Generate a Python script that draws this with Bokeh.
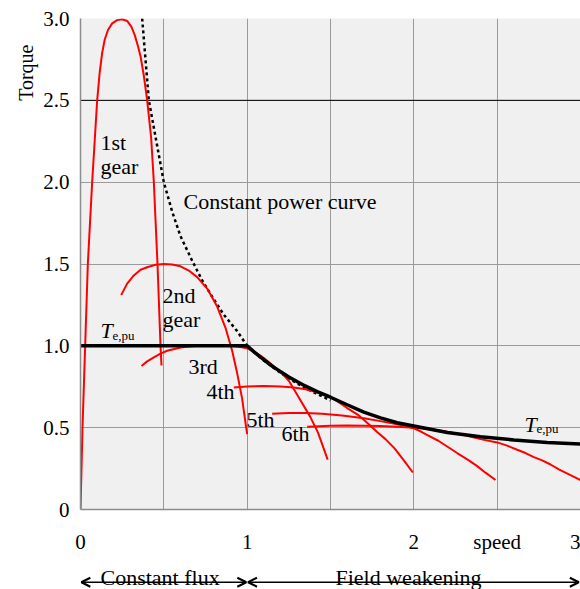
from bokeh.plotting import figure
from bokeh.models import FixedTicker, Label, Arrow, OpenHead, Span, Title
from bokeh.layouts import column
from bokeh.embed import file_html
from bokeh.resources import INLINE

# ---------------- data ----------------
x_ticks = [0, 0.5, 1, 1.5, 2, 2.5, 3]
x_tick_labels = ["0", "", "1", "", "2", "speed", "3"]
y_ticks = [0, 0.5, 1, 1.5, 2, 2.5, 3]
y_tick_labels = ["0", "0.5", "1.0", "1.5", "2.0", "2.5", "3.0"]

speed_1st = [0.0, 0.012, 0.028, 0.044, 0.07, 0.085, 0.10, 0.115, 0.13, 0.145, 0.165, 0.19, 0.22, 0.25, 0.28, 0.305, 0.325, 0.345, 0.36, 0.38, 0.40, 0.424, 0.44, 0.462, 0.48, 0.486]
torque_1st = [0.0, 0.5, 1.0, 1.5, 2.0, 2.25, 2.5, 2.67, 2.79, 2.87, 2.93, 2.97, 2.99, 2.995, 2.985, 2.95, 2.9, 2.83, 2.77, 2.65, 2.5, 2.27, 2.0, 1.5, 1.0, 0.88]

speed_2nd = [0.244, 0.28, 0.32, 0.36, 0.40, 0.45, 0.50, 0.55, 0.60, 0.65, 0.70, 0.76, 0.82, 0.87, 0.91, 0.94, 0.97, 0.994, 1.0]
torque_2nd = [1.31, 1.38, 1.43, 1.465, 1.48, 1.495, 1.50, 1.497, 1.486, 1.46, 1.42, 1.35, 1.24, 1.11, 0.97, 0.833, 0.676, 0.5, 0.46]

speed_3rd = [0.366, 0.40, 0.44, 0.48, 0.52, 0.60, 0.70, 0.80, 0.90, 0.95, 1.0, 1.05, 1.10, 1.16, 1.21, 1.251, 1.309, 1.377, 1.425, 1.483]
torque_3rd = [0.877, 0.905, 0.93, 0.952, 0.97, 0.99, 1.0, 1.005, 1.0, 0.995, 0.985, 0.96, 0.925, 0.875, 0.83, 0.785, 0.686, 0.569, 0.47, 0.305]

speed_4th = [0.92, 1.0, 1.1, 1.2, 1.28, 1.35, 1.42, 1.50, 1.542, 1.60, 1.663, 1.72, 1.783, 1.83, 1.883, 1.94, 1.994]
torque_4th = [0.745, 0.752, 0.755, 0.752, 0.745, 0.735, 0.716, 0.686, 0.66, 0.62, 0.58, 0.53, 0.47, 0.43, 0.375, 0.30, 0.226]

speed_5th = [1.15, 1.25, 1.35, 1.45, 1.57, 1.70, 1.80, 1.90, 1.95, 2.0, 2.04, 2.07, 2.147, 2.20, 2.26, 2.33, 2.38, 2.43, 2.49]
torque_5th = [0.585, 0.59, 0.59, 0.585, 0.575, 0.558, 0.54, 0.52, 0.51, 0.496, 0.478, 0.46, 0.42, 0.385, 0.345, 0.30, 0.265, 0.225, 0.18]

speed_6th = [1.36, 1.5, 1.6, 1.8, 1.9, 2.0, 2.1, 2.2, 2.3, 2.4, 2.5, 2.56, 2.62, 2.67, 2.72, 2.77, 2.82, 2.87, 2.94, 3.0]
torque_6th = [0.506, 0.512, 0.514, 0.51, 0.506, 0.50, 0.49, 0.475, 0.455, 0.43, 0.41, 0.39, 0.365, 0.345, 0.32, 0.30, 0.275, 0.245, 0.21, 0.18]

speed_te = [0.0, 1.0, 1.05, 1.1, 1.154, 1.25, 1.348, 1.42, 1.5, 1.6, 1.7, 1.8, 1.9, 2.0, 2.2, 2.4, 2.6, 2.8, 3.0]
torque_te = [1.0, 1.0, 0.955, 0.915, 0.873, 0.81, 0.755, 0.72, 0.686, 0.64, 0.595, 0.56, 0.53, 0.51, 0.47, 0.445, 0.425, 0.41, 0.40]

speed_cp = [0.37, 0.39, 0.41, 0.455, 0.50, 0.55, 0.60, 0.67, 0.73, 0.79, 0.86, 0.94, 1.0, 1.1, 1.2, 1.3, 1.4, 1.5]
torque_cp = [3.0, 2.75, 2.5, 2.25, 2.0, 1.82, 1.67, 1.52, 1.40, 1.30, 1.19, 1.09, 1.0, 0.91, 0.835, 0.77, 0.715, 0.667]

gear_curves = [
    (speed_1st, torque_1st), (speed_2nd, torque_2nd), (speed_3rd, torque_3rd),
    (speed_4th, torque_4th), (speed_5th, torque_5th), (speed_6th, torque_6th),
]

FONT = "Liberation Serif"

p = figure(width=580, height=556, x_range=(0, 3), y_range=(0, 3),
           output_backend="svg", toolbar_location=None,
           min_border_left=80, min_border_right=0, min_border_top=18, min_border_bottom=44,
           background_fill_color="#f0f0f0", border_fill_color="white",
           outline_line_color=None, title_location="left")
p.title = Title(text="Torque", align="right", text_font=FONT, text_font_size="20px",
                text_font_style="normal", text_color="black", offset=26, standoff=8)
p.title_location = "left"

# axes
xt = FixedTicker(ticks=x_ticks)
yt = FixedTicker(ticks=y_ticks)
p.xaxis.ticker = xt
p.yaxis.ticker = yt
p.xgrid.ticker = xt
p.ygrid.ticker = yt
p.xaxis.major_label_overrides = dict(zip(x_ticks, x_tick_labels))
p.yaxis.major_label_overrides = dict(zip(y_ticks, y_tick_labels))
for ax in (p.xaxis, p.yaxis):
    ax.major_tick_line_color = None
    ax.minor_tick_line_color = None
    ax.major_tick_in = 0
    ax.major_tick_out = 0
    ax.axis_line_color = "#8c8c8c"
    ax.axis_line_width = 1.5
    ax.major_label_text_font = FONT
    ax.major_label_text_font_size = "21px"
    ax.major_label_text_color = "black"
p.yaxis.major_label_standoff = 11
p.xaxis.major_label_standoff = 20

for g in (p.xgrid, p.ygrid):
    g.grid_line_color = "#9a9a9a"
    g.grid_line_width = 1

p.add_layout(Span(location=2.5, dimension="width", line_color="black", line_width=1, level="underlay"))

# curves
p.line(speed_cp, torque_cp, line_color="black", line_width=2.5, line_dash="3 3")
for sx, sy in gear_curves:
    p.line(sx, sy, line_color="#ff0000", line_width=2)
p.line(speed_te, torque_te, line_color="black", line_width=3.5)


def lab(fig, x, y, t, size="22px", style="normal"):
    fig.add_layout(Label(x=x, y=y, text=t, text_font=FONT, text_font_size=size,
                         text_font_style=style, text_align="left", text_baseline="alphabetic",
                         text_color="black"))


lab(p, 0.12, 2.241, "1st")
lab(p, 0.12, 2.095, "gear")
lab(p, 0.618, 1.880, "Constant power curve")
lab(p, 0.492, 1.307, "2nd")
lab(p, 0.492, 1.162, "gear")
lab(p, 0.648, 0.874, "3rd")
lab(p, 0.756, 0.723, "4th")
lab(p, 0.996, 0.547, "5th")
lab(p, 1.206, 0.462, "6th")
lab(p, 0.12, 1.093, "T", size="22px", style="italic")
lab(p, 0.192, 1.063, "e,pu", size="13px")
lab(p, 2.664, 0.522, "T", size="22px", style="italic")
lab(p, 2.736, 0.495, "e,pu", size="13px")

# strip below the axis with the operating regions
p2 = figure(width=580, height=33, x_range=p.x_range, y_range=(0, 1),
            output_backend="svg", toolbar_location=None,
            x_axis_type=None, y_axis_type=None,
            min_border_left=80, min_border_right=0, min_border_top=0, min_border_bottom=0,
            background_fill_color="white", border_fill_color="white", outline_line_color=None)
p2.grid.visible = False
lab(p2, 0.12, 0.36, "Constant flux")
lab(p2, 1.53, 0.36, "Field weakening")
p2.add_layout(Arrow(x_start=0.005, y_start=0.22, x_end=0.995, y_end=0.22,
                    start=OpenHead(size=9, line_width=2), end=OpenHead(size=9, line_width=2),
                    line_width=1.5, line_color="black"))
p2.add_layout(Arrow(x_start=1.005, y_start=0.22, x_end=2.99, y_end=0.22,
                    start=OpenHead(size=9, line_width=2), end=OpenHead(size=9, line_width=2),
                    line_width=1.5, line_color="black"))

layout = column(p, p2, spacing=0)
open("out.html", "w").write(file_html(layout, INLINE))
